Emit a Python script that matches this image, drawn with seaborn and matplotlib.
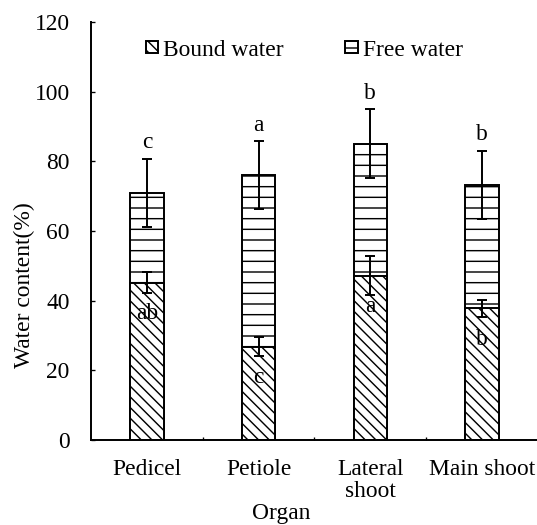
import numpy as np
import pandas as pd
import matplotlib
matplotlib.use('Agg')
import matplotlib.pyplot as plt
import seaborn as sns
from matplotlib.patches import Patch

# values
organs = ['Pedicel', 'Petiole', 'Lateral\nshoot', 'Main shoot']
bound_water = [45.2, 26.8, 47.2, 37.8]
bound_sd = [3.0, 2.7, 5.5, 2.4]
total_water = [71.0, 76.1, 85.0, 73.2]
total_sd = [9.8, 9.7, 9.9, 9.8]
total_letters = ['c', 'a', 'b', 'b']
bound_letters = ['ab', 'c', 'a', 'b']

df = pd.DataFrame({'organ': organs, 'bound': bound_water, 'total': total_water})

sns.set_style('ticks')
plt.rcParams['font.family'] = ['Liberation Serif', 'DejaVu Serif']
plt.rcParams['hatch.linewidth'] = 1.6
plt.rcParams['hatch.color'] = 'black'
for k in ['text.color', 'axes.labelcolor', 'xtick.color', 'ytick.color', 'axes.edgecolor']:
    plt.rcParams[k] = 'black'

DPI = 64
FS = 26.5
LW = 2.2
fig = plt.figure(figsize=(537 / DPI, 525 / DPI), dpi=DPI)
ax = fig.add_axes([0.1695, 0.162, 0.832, 0.796])

# free water drawn as the full stack, bound water over it
sns.barplot(data=df, x='organ', y='total', color='white', saturation=1,
            edgecolor='black', linewidth=LW, width=0.3, hatch='-',
            errorbar=None, ax=ax)
sns.barplot(data=df, x='organ', y='bound', color='white', saturation=1,
            edgecolor='black', linewidth=LW, width=0.3, hatch='\\\\',
            errorbar=None, ax=ax)

xpos = np.arange(len(organs))
ax.errorbar(xpos, total_water, yerr=total_sd, fmt='none', ecolor='black',
            elinewidth=LW, capsize=5.5, capthick=LW, zorder=5)
ax.errorbar(xpos, bound_water, yerr=bound_sd, fmt='none', ecolor='black',
            elinewidth=LW, capsize=5.5, capthick=LW, zorder=5)

for i in range(len(organs)):
    ax.text(i, total_water[i] + total_sd[i] + 3, total_letters[i],
            ha='center', va='baseline', fontsize=FS)
    ax.text(i, bound_water[i] - 9, bound_letters[i],
            ha='center', va='center', fontsize=FS, zorder=6)

ax.set_xlim(-0.5, len(organs) - 0.5)
ax.set_ylim(0, 120)
ax.set_yticks(range(0, 121, 20))
ax.set_xticks(xpos + 0.5, minor=True)
sns.despine(ax=ax)
for s in ['left', 'bottom']:
    ax.spines[s].set_linewidth(LW)

ax.tick_params(axis='y', direction='in', length=4, width=1.5, pad=24, labelsize=FS)
ax.tick_params(axis='x', which='major', length=0, pad=21, labelsize=FS)
ax.tick_params(axis='x', which='minor', direction='in', length=3, width=1.5)
for lab in ax.get_xticklabels():
    lab.set_linespacing(1.1)

ax.set_xlabel('Organ', fontsize=FS)
ax.xaxis.set_label_coords(0.425, -0.152)
ax.set_ylabel('Water content(%)', fontsize=FS)
ax.yaxis.set_label_coords(-0.125, 0.371)

handles = [
    Patch(facecolor='white', edgecolor='black', hatch='\\\\', linewidth=LW, label='Bound water'),
    Patch(facecolor='white', edgecolor='black', hatch='-', linewidth=LW, label='Free water'),
]
ax.legend(handles=handles, loc='center', bbox_to_anchor=(0.477, 0.933), ncol=2,
          frameon=False, fontsize=FS, handlelength=0.55, handleheight=0.45,
          handletextpad=0.2, columnspacing=2.6)

fig.savefig('out.png', dpi=DPI)
